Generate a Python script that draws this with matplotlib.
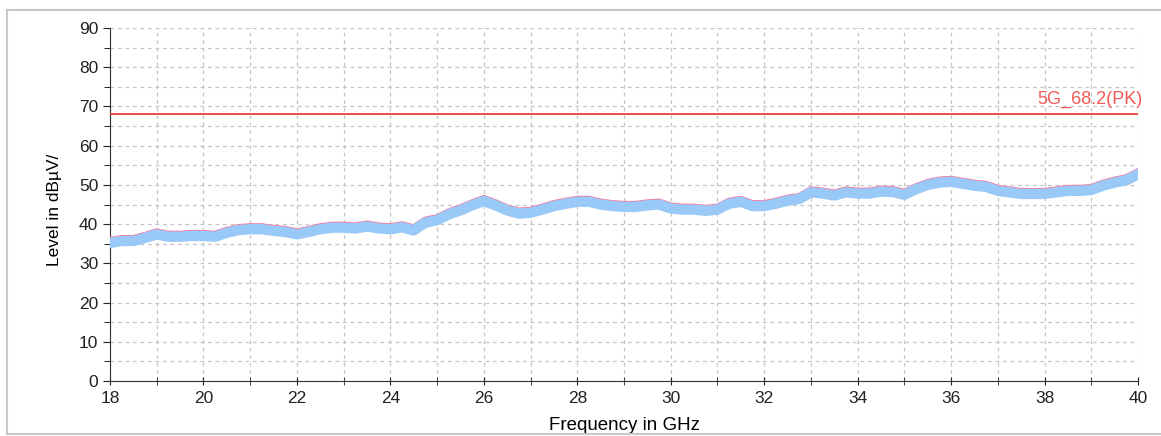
import matplotlib.pyplot as plt
import matplotlib.transforms as mtransforms
from matplotlib.lines import Line2D

# frequency points (GHz) and trace level (dBuV)
freq = [18.0, 18.25, 18.5, 18.75, 19.0, 19.25, 19.5, 19.75, 20.0, 20.25, 20.5, 20.75,
        21.0, 21.25, 21.5, 21.75, 22.0, 22.25, 22.5, 22.75, 23.0, 23.25, 23.5, 23.75,
        24.0, 24.25, 24.5, 24.75, 25.0, 25.25, 25.5, 25.75, 26.0, 26.25, 26.5, 26.75,
        27.0, 27.25, 27.5, 27.75, 28.0, 28.25, 28.5, 28.75, 29.0, 29.25, 29.5, 29.75,
        30.0, 30.25, 30.5, 30.75, 31.0, 31.25, 31.5, 31.75, 32.0, 32.25, 32.5, 32.75,
        33.0, 33.25, 33.5, 33.75, 34.0, 34.25, 34.5, 34.75, 35.0, 35.25, 35.5, 35.75,
        36.0, 36.25, 36.5, 36.75, 37.0, 37.25, 37.5, 37.75, 38.0, 38.25, 38.5, 38.75,
        39.0, 39.25, 39.5, 39.75, 40.0]
level = [35.2, 35.7, 35.7, 36.5, 37.4, 36.8, 36.8, 37.0, 37.0, 36.8, 37.8, 38.5,
         38.7, 38.7, 38.3, 38.0, 37.4, 38.0, 38.7, 39.1, 39.1, 38.9, 39.4, 38.9,
         38.7, 39.2, 38.4, 40.4, 41.0, 42.5, 43.5, 44.8, 45.9, 44.8, 43.5, 42.7,
         42.9, 43.7, 44.6, 45.2, 45.7, 45.7, 45.0, 44.6, 44.4, 44.4, 44.8, 45.0,
         44.0, 43.7, 43.7, 43.4, 43.7, 45.2, 45.7, 44.6, 44.6, 45.2, 46.0, 46.4,
         48.1, 47.8, 47.3, 48.1, 47.8, 47.8, 48.3, 48.2, 47.5, 48.9, 50.0, 50.6,
         50.8, 50.3, 49.8, 49.5, 48.5, 48.1, 47.7, 47.7, 47.7, 48.1, 48.5, 48.5,
         48.7, 49.8, 50.6, 51.2, 52.7]

limit_val = 68.2
limit_name = "5G_68.2(PK)"

plt.rcParams['font.family'] = ['Liberation Sans', 'DejaVu Sans']

fig = plt.figure(figsize=(11.61, 4.36), dpi=100)
ax = fig.add_axes([110/1161, 1-381/436, (1138-110)/1161, (381-28)/436])

# outer light frame
fig.add_artist(Line2D([7/1161, 7/1161], [2/436, 1-10/436], transform=fig.transFigure, color="#c8c8c8", lw=1.5))
fig.add_artist(Line2D([7/1161, 1.0], [1-10/436, 1-10/436], transform=fig.transFigure, color="#c8c8c8", lw=1.5))
fig.add_artist(Line2D([7/1161, 1.0], [2/436, 2/436], transform=fig.transFigure, color="#c8c8c8", lw=1.5))

# peak trace (pink, slightly above) and average trace (light blue)
up = mtransforms.offset_copy(ax.transData, fig=fig, x=0, y=1.8, units='points')
ax.plot(freq, level, color="#ff6f9a", lw=5, transform=up, solid_joinstyle='round', zorder=3)
ax.plot(freq, level, color="#99c9f7", lw=7.5, solid_joinstyle='round', zorder=4)

ax.axhline(limit_val, color="#e8413c", lw=1.3, zorder=5)
lbl_tr = mtransforms.offset_copy(ax.transData, fig=fig, x=3, y=0, units='points')
ax.text(40.0, limit_val + 1.3, limit_name, color="#f25a55", fontsize=13, ha="right", va="bottom",
        transform=lbl_tr)

ax.set_xlim(18, 40)
ax.set_ylim(0, 90)
ax.set_xticks(range(18, 41, 2))
ax.set_xticks(range(18, 41, 1), minor=True)
ax.set_yticks(range(0, 91, 10))
ax.set_yticks(range(5, 90, 10), minor=True)

ax.grid(True, which="both", color="#c4c4c4", ls=(0, (3, 3)), lw=0.9)
ax.set_axisbelow(True)

for s in ["top", "right"]:
    ax.spines[s].set_visible(False)
ax.spines["left"].set_color("#333333")
ax.spines["bottom"].set_color("#333333")
ax.tick_params(axis="y", which="major", length=5, direction="out", labelsize=12.5, colors="#222222")
ax.tick_params(axis="y", which="minor", length=4, direction="out")
ax.tick_params(axis="x", which="both", length=6, direction="inout", labelsize=12.5, colors="#222222", pad=4)

ax.set_xlabel("Frequency in GHz", fontsize=13.5, labelpad=8)
ax.set_ylabel("Level in dBµV/", fontsize=12.5)
ax.yaxis.set_label_coords(-0.047, 0.484)

fig.savefig("out.png", dpi=100)
